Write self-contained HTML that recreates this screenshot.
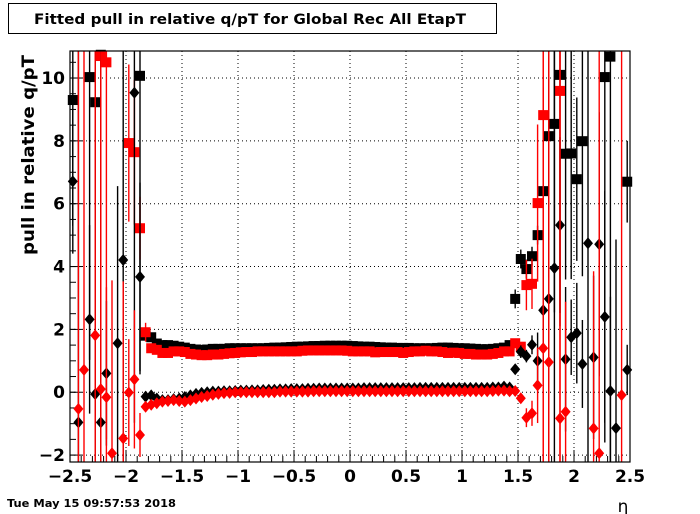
<!DOCTYPE html>
<html><head><meta charset="utf-8">
<style>
html,body{margin:0;padding:0;background:#fff;}
svg{display:block;font-family:"DejaVu Sans","Liberation Sans",sans-serif;}
</style></head>
<body>
<svg id="chart" width="700" height="514" viewBox="0 0 700 514">
  <rect x="0" y="0" width="700" height="514" fill="#fff"/>
  <g>
    <rect x="8.5" y="3.5" width="488" height="30" fill="#fff" stroke="#000" stroke-width="1"/>
    <text x="250" y="24" text-anchor="middle" font-size="14" font-weight="bold" textLength="432" lengthAdjust="spacingAndGlyphs">Fitted pull in relative q/pT for Global Rec All EtapT</text>
  </g>
  <g id="grid"></g>
  <g id="axes"></g>
  <g id="series"></g>
  <rect x="70" y="51" width="560" height="411" fill="none" stroke="#000" stroke-width="1.2"/>
  <text transform="translate(34,155) rotate(-90)" text-anchor="middle" font-size="17" font-weight="bold" textLength="200" lengthAdjust="spacingAndGlyphs">pull in relative q/pT</text>
  <text x="623" y="512" text-anchor="middle" font-size="17">η</text>
  <text x="7" y="507" font-size="10.5" font-weight="bold" textLength="169" lengthAdjust="spacingAndGlyphs">Tue May 15 09:57:53 2018</text>
</svg>
<script>
// ---- data (100 eta bins of width 0.05 from -2.5 to 2.5) ----
const etaMin = -2.5;
const binWidth = 0.05;
const xTicks = [-2.5,-2,-1.5,-1,-0.5,0,0.5,1,1.5,2,2.5];
const xTickLabels = ["\u22122.5","\u22122","\u22121.5","\u22121","\u22120.5","0","0.5","1","1.5","2","2.5"];
const yTicks = [-2,0,2,4,6,8,10];
const yTickLabels = ["\u22122","0","2","4","6","8","10"];

// sparse outlier points: [bin, value, error]
const blackSquareEdge = [[0,9.3,4],[3,10.03,9],[4,9.23,10],[5,10.74,10],[12,10.07,9.5],[13,1.8,0.15],[14,1.75,0.1],
  [79,2.97,0.3],[80,4.24,0.3],[81,3.92,0.3],[82,4.33,0.3],[83,5.0,0.3],[84,6.4,3.3],[85,8.15,4.5],[86,8.54,6],[87,10.1,8],
  [88,7.59,4],[89,7.6,4],[90,6.78,2.6],[91,7.99,4.3],[95,10.03,11],[96,10.68,15],[99,6.7,1.3]];
const redSquareEdge = [[5,10.7,12],[6,10.5,12],[10,7.93,2.5],[11,7.64,2.3],[12,5.22,1],[13,1.91,0.3],[14,1.4,0.1],
  [79,1.56,0.15],[80,1.45,0.1],[81,3.41,0.8],[82,3.45,0.8],[83,6.02,2.5],[84,8.82,15],[87,9.59,15]];
const blackDiamondEdge = [[0,6.71,2.3],[1,-0.96,15],[3,2.32,3],[4,-0.06,15],[5,-0.96,15],[6,0.6,2.3],[8,1.56,5],[9,4.21,7],
  [11,9.53,10.5],[12,3.67,3],[13,-0.14,0.1],[14,-0.1,0.1],
  [79,0.73,0.1],[80,1.29,0.2],[81,1.15,0.2],[82,1.51,0.3],[83,1.0,0.9],[84,2.61,1.6],[85,2.97,7],[86,3.95,8],[87,5.32,2.8],
  [88,1.05,2.3],[89,1.75,1.2],[90,1.88,1.6],[91,0.9,1.4],[92,4.74,8],[93,1.11,2.6],[94,4.71,4.2],[95,2.4,4],
  [96,0.04,3],[97,-1.14,6],[99,0.71,0.8]];
const redDiamondEdge = [[1,-0.53,15],[2,0.71,15],[4,1.81,15],[5,0.1,15],[6,-0.16,3.5],[7,-1.94,5.5],[9,-1.47,5],[10,-0.01,1.7],
  [11,0.41,2.2],[12,-1.36,0.7],[13,-0.46,0.1],[14,-0.4,0.1],
  [79,0.04,0.05],[80,-0.19,0.1],[81,-0.81,0.3],[82,-0.67,0.4],[83,0.22,1.2],[84,1.4,15],[85,0.96,15],[87,-0.83,15],[88,-0.62,3.5],
  [93,-1.15,5],[94,-1.94,15],[98,-0.09,15]];

// central (bins 15..78) values
const flatStartBin = 15;
const blackSquareFlat = [1.55,1.5,1.5,1.48,1.45,1.42, 1.38,1.36,1.35,1.36,1.38,1.38,
  1.38,1.4,1.4,1.4,1.4,1.4,1.4,1.4,1.41,1.42,1.42,1.43,1.44,1.45,
  1.45,1.46,1.47,1.47,1.48,1.48,1.48,1.48,1.48,1.47,1.46,1.45,1.45,1.44,1.43,1.42,1.42,1.41,
  1.41,1.41,1.4,1.4,1.4,1.4,1.41,1.42,1.42,1.41,1.4,1.4,1.39,1.38,1.37,1.37,1.38,1.4,1.42,1.5];
const redSquareFlat = [1.35,1.25,1.25,1.3,1.3,1.28, 1.22,1.2,1.18,1.18,1.2,1.2,
  1.22,1.24,1.25,1.27,1.28,1.28,1.3,1.3,1.3,1.3,1.3,1.3,1.3,1.3,
  1.32,1.33,1.33,1.33,1.33,1.33,1.33,1.33,1.32,1.3,1.3,1.3,1.3,1.27,1.28,1.28,1.28,1.28,
  1.25,1.28,1.3,1.3,1.32,1.3,1.3,1.28,1.25,1.26,1.25,1.22,1.22,1.2,1.2,1.2,1.22,1.25,1.3,1.3];
const blackDiamondFlat = [-0.2,-0.25,-0.25,-0.22,-0.2,-0.15, -0.1,-0.05,-0.02,0,0.02,0.02,
  0.03,0.03,0.04,0.05,0.05,0.06,0.06,0.07,0.08,0.08,0.09,0.09,0.1,0.1,
  0.1,0.11,0.11,0.12,0.12,0.12,0.12,0.12,0.12,0.12,0.12,0.13,0.13,0.13,0.13,0.13,0.13,0.13,
  0.13,0.13,0.13,0.14,0.14,0.14,0.14,0.14,0.14,0.14,0.14,0.14,0.14,0.14,0.14,0.14,0.15,0.15,0.18,0.15];
const redDiamondFlat = [-0.35,-0.3,-0.28,-0.25,-0.28,-0.3, -0.25,-0.2,-0.15,-0.12,-0.08,-0.05,
  -0.03,-0.02,0,0,0,0,0,0,0,0,0.02,0.02,0.02,0.02,
  0.02,0.02,0.03,0.03,0.03,0.03,0.03,0.03,0.03,0.03,0.03,0.03,0.03,0.03,0.03,0.03,0.03,0.03,
  0.03,0.03,0.03,0.03,0.03,0.03,0.03,0.03,0.03,0.03,0.03,0.03,0.03,0.03,0.03,0.03,0.04,0.05,0.05,0.03];

// ---- axes ----
const X0 = 70, X1 = 630, Y0 = 462, Y1 = 51;
const xMin = -2.5, xMax = 2.5, yMin = -2.22, yMax = 10.86;
function xs(v){ return X0 + (v - xMin) / (xMax - xMin) * (X1 - X0); }
function ys(v){ return Y0 - (v - yMin) / (yMax - yMin) * (Y0 - Y1); }
function binCenter(b){ return etaMin + binWidth * (b + 0.5); }

const NS = "http://www.w3.org/2000/svg";
function mk(tag, attrs, parent){
  const e = document.createElementNS(NS, tag);
  for (const k in attrs) e.setAttribute(k, attrs[k]);
  parent.appendChild(e);
  return e;
}
const grid = document.getElementById('grid');
const axes = document.getElementById('axes');
const series = document.getElementById('series');

xTicks.forEach((t, i) => {
  const x = xs(t);
  if (i > 0 && i < xTicks.length - 1) {
    const g = mk('line', {x1:x, x2:x, y1:Y1, y2:Y0, stroke:'#000', 'stroke-width':1, 'stroke-dasharray':'1,3'}, grid);
    
    
  }
  const tk = mk('line', {x1:x, x2:x, y1:Y0, y2:Y0 - 12, stroke:'#000', 'stroke-width':1}, axes);
  
  
  const lb = mk('text', {x:x, y:482, 'text-anchor':'middle', 'font-size':17, 'font-weight':'bold'}, axes);
  lb.textContent = xTickLabels[i];
  
  
});
for (let t = -2.5; t <= 2.5001; t += 0.1) {
  const x = xs(t);
  const tk = mk('line', {x1:x, x2:x, y1:Y0, y2:Y0 - 6, stroke:'#000', 'stroke-width':1}, axes);
  
  
}
yTicks.forEach((t, i) => {
  const y = ys(t);
  const g = mk('line', {x1:X0, x2:X1, y1:y, y2:y, stroke:'#000', 'stroke-width':1, 'stroke-dasharray':'1,3'}, grid);
  
  
  const tk = mk('line', {x1:X0, x2:X0 + 12, y1:y, y2:y, stroke:'#000', 'stroke-width':1}, axes);
  
  
  const lb = mk('text', {x:65, y:y + 6, 'text-anchor':'end', 'font-size':17, 'font-weight':'bold'}, axes);
  lb.textContent = yTickLabels[i];
  
  
});
for (let t = -2; t <= 10.8; t += 0.5) {
  const y = ys(t);
  const tk = mk('line', {x1:X0, x2:X0 + 6, y1:y, y2:y, stroke:'#000', 'stroke-width':1}, axes);
  
  
}

// ---- series ----
function points(edge, flat){
  const pts = edge.map(p => ({b:p[0], v:p[1], e:p[2]}));
  flat.forEach((v, i) => pts.push({b:flatStartBin + i, v:v, e:0.04}));
  return pts;
}
function clampY(y){ return Math.max(Y1, Math.min(Y0, y)); }
function drawSeries(name, pts, color, shape){
  const g = mk('g', {}, series);
  
  
  pts.forEach(p => {
    const x = xs(binCenter(p.b));
    const yc = ys(p.v);
    const eb = mk('line', {x1:x, x2:x, y1:clampY(ys(p.v + p.e)), y2:clampY(ys(p.v - p.e)), stroke:color, 'stroke-width':1.4}, g);
    
    
    if (yc < Y1 - 3 || yc > Y0 + 3) return;
    let m;
    if (shape === 'square') {
      m = mk('rect', {x:x - 5, y:yc - 5, width:10, height:10, fill:color}, g);
    } else {
      m = mk('polygon', {points:`${x},${yc-6} ${x+5},${yc} ${x},${yc+6} ${x-5},${yc}`, fill:color}, g);
    }
    
    
  });
}
drawSeries('black-square-series', points(blackSquareEdge, blackSquareFlat), '#000', 'square');
drawSeries('red-square-series', points(redSquareEdge, redSquareFlat), '#f00', 'square');
drawSeries('black-diamond-series', points(blackDiamondEdge, blackDiamondFlat), '#000', 'diamond');
drawSeries('red-diamond-series', points(redDiamondEdge, redDiamondFlat), '#f00', 'diamond');
</script>
</body></html>
